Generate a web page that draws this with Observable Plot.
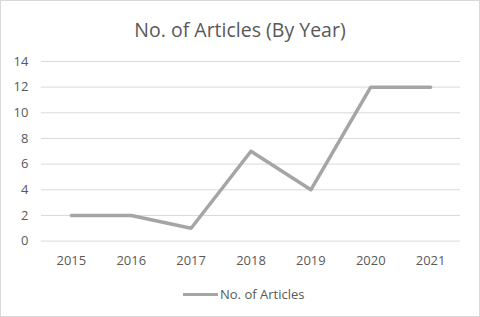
<!DOCTYPE html>
<html><head><meta charset="utf-8">
<script src="https://cdn.jsdelivr.net/npm/d3@7"></script>
<script src="https://cdn.jsdelivr.net/npm/@observablehq/plot@0.6"></script>
<style>
html,body{margin:0;padding:0;background:#fff;}
#wrap{position:relative;width:478px;height:315px;border:1px solid #d9d9d9;font-family:"Open Sans",sans-serif;color:#595959;overflow:hidden;}
#title{position:absolute;left:0;top:15px;width:478px;text-align:center;font-size:19.5px;line-height:28px;color:#595959;}
#chart{position:absolute;left:-1px;top:47px;}
#legend{position:absolute;left:182px;top:284px;display:flex;align-items:center;font-size:13px;color:#595959;}
#legend .sw{width:35px;height:3px;background:#a5a5a5;margin-right:2px;}
</style></head>
<body>
<div id="wrap">
<div id="title">No. of Articles (By Year)</div>
<div id="chart"></div>
<div id="legend"><div class="sw"></div><span>No. of Articles</span></div>
</div>
<script>
const years = ["2015","2016","2017","2018","2019","2020","2021"];
const articles = [2, 2, 1, 7, 4, 12, 12];
const yTicks = [0, 2, 4, 6, 8, 10, 12, 14];

const data = years.map((y, i) => ({year: y, value: articles[i]}));

const plot = Plot.plot({
  width: 480,
  height: 230,
  marginTop: 13,
  marginBottom: 37,
  marginLeft: 41,
  marginRight: 19,
  style: {fontFamily: "'Open Sans', sans-serif", fontSize: "13px", color: "#595959", background: "transparent"},
  x: {type: "point", domain: years, padding: 0.5, label: null, tickSize: 0, tickPadding: 15},
  y: {domain: [0, 14], ticks: yTicks, label: null, tickSize: 0, tickPadding: 13},
  marks: [
    Plot.ruleY(yTicks, {stroke: "#d9d9d9", strokeWidth: 1}),
    Plot.line(data, {x: "year", y: "value", stroke: "#a5a5a5", strokeWidth: 3.5, strokeLinejoin: "round", strokeLinecap: "round"})
  ]
});
document.getElementById("chart").appendChild(plot);
</script>
</body></html>
